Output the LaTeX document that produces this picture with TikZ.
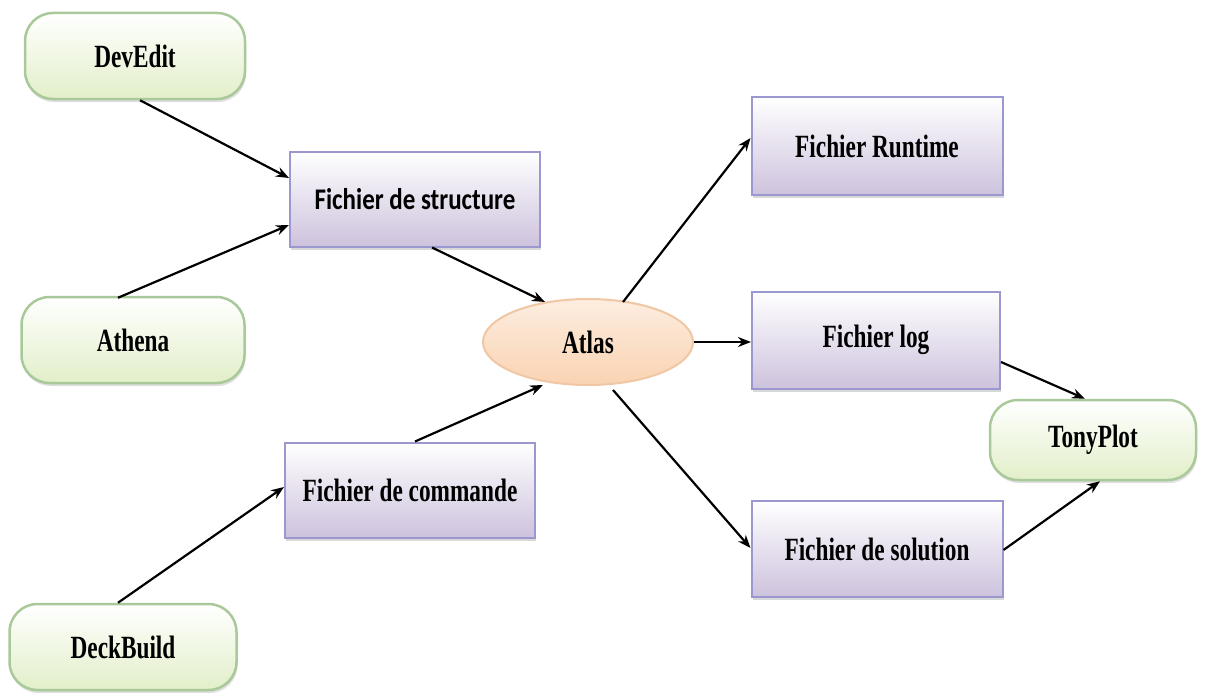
\documentclass[tikz,border=0pt]{standalone}
\usepackage{graphicx}
\usepackage{fontspec}
\setmainfont{Liberation Serif}
\newfontfamily\carl{Carlito}
\newcommand\tallt[1]{\scalebox{0.97}[1.35]{#1}}
\usetikzlibrary{shapes.geometric,arrows.meta,calc,shadows}
\definecolor{gborder}{HTML}{A9C99A}
\definecolor{gfill}{HTML}{E2EFC9}
\definecolor{pborder}{HTML}{9A98CE}
\definecolor{pfill}{HTML}{CDC2DD}
\definecolor{oborder}{HTML}{F0C7A4}
\definecolor{ofill}{HTML}{FAD3B2}
\tikzset{
  greenbox/.style={draw=gborder, line width=2.5pt, rounded corners=28pt, top color=white, bottom color=gfill, minimum width=#1, minimum height=86pt, font=\bfseries\fontsize{24}{28}\selectfont, drop shadow={shadow xshift=1pt, shadow yshift=-3pt, fill=black!25, opacity=.5}},
  purplebox/.style={draw=pborder, line width=2pt, top color=white, bottom color=pfill, minimum width=250pt, minimum height=95pt, font=\bfseries\fontsize{24}{28}\selectfont, drop shadow={shadow xshift=1pt, shadow yshift=-3pt, fill=black!30, opacity=.5}},
  atlasbox/.style={ellipse, draw=oborder, line width=2pt, top color=ofill!40, bottom color=ofill, minimum width=210pt, minimum height=86pt, font=\bfseries\fontsize{24}{28}\selectfont},
  conn/.style={-{Stealth[length=13pt,width=10pt]}, line width=2.2pt, black}
}
\begin{document}
\begin{tikzpicture}[x=1pt,y=-1pt]
\useasboundingbox (0,0) rectangle (1216,693);
\node[greenbox=220pt] (devedit) at (135,56) {\tallt{DevEdit}};
\node[greenbox=223pt] (athena) at (133,340) {\tallt{Athena}};
\node[greenbox=227pt] (deckbuild) at (123,647) {\tallt{DeckBuild}};
\node[purplebox] (struct) at (415,199) {\carl\bfseries\fontsize{25}{28}\selectfont\scalebox{1}[1.2]{Fichier de structure}};
\node[purplebox] (commande) at (410,490) {\tallt{Fichier de commande}};
\node[atlasbox] (atlas) at (588,342) {\tallt{Atlas}};
\node[purplebox, minimum width=251pt, minimum height=98pt] (runtime) at (877,146) {\tallt{Fichier Runtime}};
\node[purplebox, minimum width=248pt, minimum height=97pt] (log) at (876,340) {\tallt{Fichier log}};
\node[purplebox, minimum width=251pt, minimum height=96pt] (solution) at (877,549) {\tallt{Fichier de solution}};
\node[greenbox=206pt, minimum height=80pt] (tony) at (1093,440) {\tallt{TonyPlot}};
\coordinate (login) at (atlas.east -| log.west);
\draw[conn] ($(devedit.south)+(5,0)$) -- ($(struct.west)+(0,-21)$);
\draw[conn] ($(athena.north)+(-15,2)$) -- ($(struct.west)+(0,26)$);
\draw[conn] ($(struct.south)+(17,0)$) -- ($(atlas.center)+(-43,-40)$);
\draw[conn] ($(commande.north)+(5,0)$) -- ($(atlas.center)+(-45,43)$);
\draw[conn] ($(deckbuild.north)+(-5,0)$) -- ($(commande.west)+(0,-3)$);
\draw[conn] ($(atlas.center)+(35,-40)$) -- ($(runtime.west)+(0,-8)$);
\draw[conn] (atlas.east) -- (login);
\draw[conn] ($(atlas.center)+(25,48)$) -- ($(solution.west)+(0,-1)$);
\draw[conn] ($(log.east)+(0,22)$) -- ($(tony.north)+(-8,0)$);
\draw[conn] ($(solution.east)+(0,1)$) -- ($(tony.south)+(7,0)$);
\end{tikzpicture}
\end{document}
